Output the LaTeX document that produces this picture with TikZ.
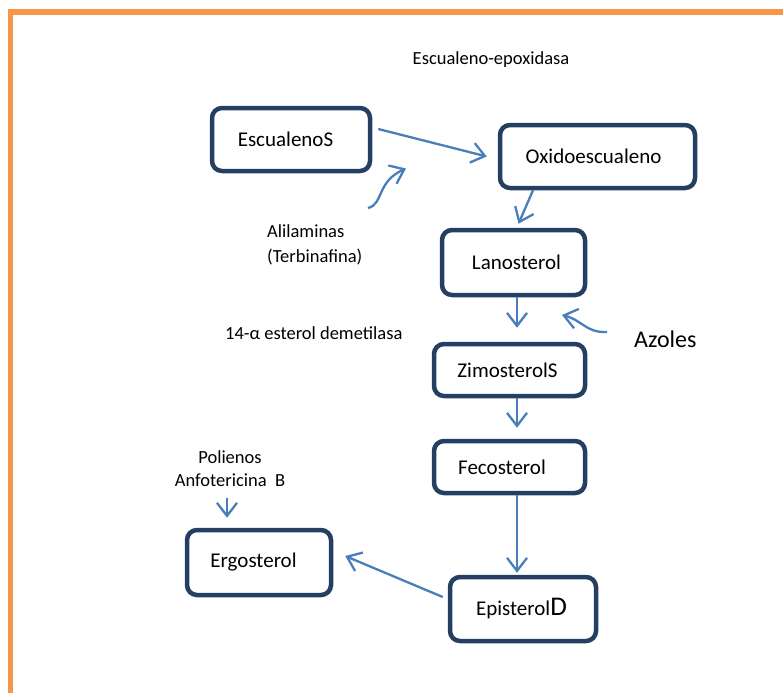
\documentclass[tikz,border=0pt]{standalone}
\usepackage{fontspec}
\setmainfont{Carlito}
\usetikzlibrary{arrows.meta,calc}
\definecolor{boxnavy}{HTML}{253F62}
\definecolor{arrblue}{HTML}{4A7EBB}
\definecolor{frameor}{HTML}{F79646}
\newcommand\mysmallfont{\fontsize{18.5}{23}\selectfont}
\newcommand\myboxfont{\fontsize{21}{25}\selectfont}
\newcommand\mybigfont{\fontsize{24}{28}\selectfont}
\newcommand\mypad[1]{\hbox to #1{}}
\begin{document}
\begin{tikzpicture}[x=1pt,y=-1pt,
  stepbox/.style={draw=boxnavy,line width=4.5pt,rounded corners=10pt,fill=white,
    inner sep=0pt,font=\myboxfont,text=black},
  flow/.style={draw=arrblue,line width=2.3pt,-{Straight Barb[length=13pt,width=20pt,line width=2.3pt]}},
  lbl/.style={inner sep=0pt,font=\mysmallfont,text=black}]
\useasboundingbox (0,0) rectangle (783,693);
% orange frame
\draw[frameor,line width=5.5pt,line join=miter] (783,12) -- (10.5,12) -- (10.5,693);
% boxes
\node[stepbox,minimum width=158pt,minimum height=63pt] (esc) at (291,139.5) {EscualenoS\mypad{11pt}};
\node[stepbox,minimum width=195pt,minimum height=63pt] (oxi) at (597.5,156.5) {Oxidoescualeno\mypad{8pt}};
\node[stepbox,minimum width=143pt,minimum height=65pt] (lan) at (513.5,262.5) {\mypad{6pt}Lanosterol};
\node[stepbox,minimum width=151pt,minimum height=52pt] (zim) at (509.5,370) {ZimosterolS\mypad{4pt}};
\node[stepbox,minimum width=151pt,minimum height=52pt] (fec) at (509.5,467) {Fecosterol\mypad{15pt}};
\node[stepbox,minimum width=144pt,minimum height=65pt] (erg) at (259,562.5) {Ergosterol\mypad{11pt}};
\node[stepbox,minimum width=146pt,minimum height=64pt] (epi) at (523,609) {Episterol{\fontsize{27}{30}\selectfont D}\mypad{3pt}};
% labels
\node[lbl,anchor=base] (epox) at (491,64) {Escualeno-epoxidasa};
\node[lbl,anchor=base west,align=left,font=\fontsize{18.5}{25}\selectfont] (ali) at (267,262) {Alilaminas\\(Terbinafina)};
\node[lbl,anchor=base west] (demet) at (225,339) {14-α esterol demetilasa};
\node[lbl,anchor=base west,font=\mybigfont] (azo) at (634,347) {Azoles};
\node[lbl,anchor=base,align=center] (pol) at (230,486) {Polienos\\Anfotericina\ \ B};
% free ends
\coordinate (aliS) at (368,208);
\coordinate (aliT) at (406,168.5);
\coordinate (azoS) at (607,332);
\coordinate (azoT) at (562,315);
\coordinate (polS) at (227,498);
% connectors
\draw[flow] ([xshift=6pt,yshift=10.5pt]esc.east) -- ([xshift=-11pt]oxi.west);
\draw[flow] ([xshift=-64.5pt]oxi.south) -- ([xshift=5pt,yshift=4pt]lan.north);
\draw[flow] ([xshift=3.5pt]lan.south) -- ([xshift=7.5pt,yshift=14pt]zim.north);
\draw[flow] ([xshift=7.5pt]zim.south) -- ([xshift=7.5pt,yshift=11pt]fec.north);
\draw[flow] ([xshift=7.5pt]fec.south) -- ([xshift=-6pt,yshift=2pt]epi.north);
\draw[flow] ([xshift=-5pt,yshift=12pt]epi.west) -- ([xshift=12pt,yshift=6.5pt]erg.east);
\draw[flow] (polS) -- ([xshift=-32pt,yshift=10pt]erg.north);
\draw[flow] (aliS) .. controls (384,204) and (376,182) .. (aliT);
\draw[flow] (azoS) .. controls (586,333) and (582,320) .. (azoT);
\end{tikzpicture}
\end{document}
